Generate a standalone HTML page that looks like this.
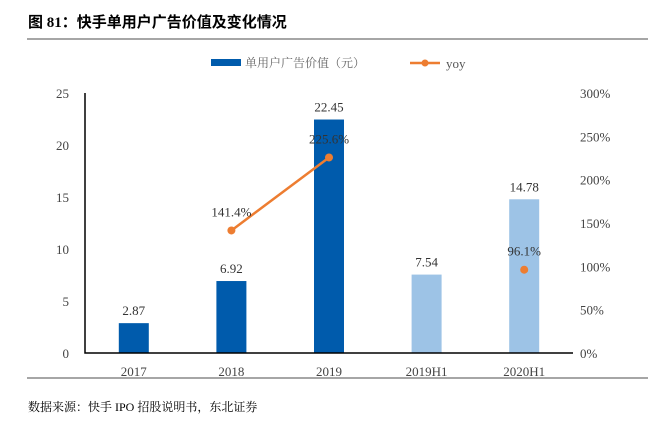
<!DOCTYPE html>
<html><head><meta charset="utf-8"><style>
body{margin:0;background:#fff;width:648px;height:426px;overflow:hidden;font-family:"Liberation Serif","Noto Serif CJK SC",serif;}
</style></head><body>
<svg width="648" height="426" id="c">
<text x="28" y="27" font-size="15" font-weight="bold" font-family="Liberation Serif, Noto Sans CJK SC, sans-serif">图  81：快手单用户广告价值及变化情况</text>
<line x1="27" y1="39" x2="648" y2="39" stroke="#888" stroke-width="1.5"/>
<g>
<rect x="211" y="59" width="30" height="7" fill="#005BAC"/>
<text x="245" y="67" font-size="12" fill="#666" font-family="Noto Serif CJK SC, serif">单用户广告价值（元）</text>
<line x1="410" y1="63" x2="440" y2="63" stroke="#ED7D31" stroke-width="2.5"/>
<circle cx="425" cy="63" r="3.5" fill="#ED7D31"/>
<text x="446" y="68" font-size="13" fill="#555">yoy</text>
</g>
<g id="plot"></g>
<line x1="27" y1="378" x2="648" y2="378" stroke="#888" stroke-width="1.5"/>
<text x="28" y="411" font-size="12" font-family="Liberation Serif, Noto Serif CJK SC, serif">数据来源：快手 IPO 招股说明书，东北证券</text>
</svg>
<script>
const categories=["2017","2018","2019","2019H1","2020H1"];
const values=[2.87,6.92,22.45,7.54,14.78];
const valueLabels=["2.87","6.92","22.45","7.54","14.78"];
const yoyValues=[null,141.4,225.6,null,96.1];
const yoyLabels=["","141.4%","225.6%","","96.1%"];
const leftTicks=[0,5,10,15,20,25];
const rightTicks=[0,50,100,150,200,250,300];
const X0=85,X1=573,Y0=353,Y1=93;
const bw=(X1-X0)/categories.length;
const xc=i=>X0+bw*(i+0.5);
const yL=v=>Y0-(v/25)*(Y0-Y1);
const yR=v=>Y0-(v/300)*(Y0-Y1);
const NS="http://www.w3.org/2000/svg";
const g=document.getElementById('plot');
function mk(t,a,txt){const e=document.createElementNS(NS,t);for(const k in a)e.setAttribute(k,a[k]);if(txt!=null)e.textContent=txt;g.appendChild(e);return e;}
leftTicks.forEach(v=>{const e=mk('text',{x:69,y:yL(v)+5,'font-size':13,fill:'#444','text-anchor':'end'},String(v));

});
rightTicks.forEach(v=>{const e=mk('text',{x:580,y:yR(v)+5,'font-size':13,fill:'#444'},v+'%');

});
categories.forEach((c,i)=>{
const h=Y0-yL(values[i]);
const r=mk('rect',{x:xc(i)-15,y:yL(values[i]),width:30,height:h,fill:i<3?'#005BAC':'#9DC3E6'});


const t=mk('text',{x:xc(i),y:yL(values[i])-8,'font-size':13,fill:'#333','text-anchor':'middle'},valueLabels[i]);


const xl=mk('text',{x:xc(i),y:Y0+23,'font-size':13,fill:'#444','text-anchor':'middle'},c);


});
const ax=mk('path',{d:`M${X0} ${Y1}V${Y0}H${X1}`,fill:'none',stroke:'#000','stroke-width':1.5});


let pts=[];
yoyValues.forEach((v,i)=>{if(v==null){if(pts.length>1)draw(pts);pts=[];return;}pts.push([xc(i),yR(v)]);});
if(pts.length>1)draw(pts);
function draw(p){const l=mk('polyline',{points:p.map(q=>q.join(',')).join(' '),fill:'none',stroke:'#ED7D31','stroke-width':2.5});

}
yoyValues.forEach((v,i)=>{if(v==null)return;
const c=mk('circle',{cx:xc(i),cy:yR(v),r:4,fill:'#ED7D31'});


const t=mk('text',{x:xc(i),y:yR(v)-14,'font-size':13,fill:'#333','text-anchor':'middle'},yoyLabels[i]);

});
</script>
</body></html>
